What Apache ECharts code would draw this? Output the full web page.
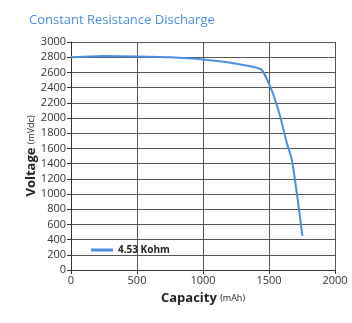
<!DOCTYPE html>
<html><head><meta charset="utf-8">
<script src="https://cdn.jsdelivr.net/npm/echarts@6/dist/echarts.min.js"></script>
<style>html,body{margin:0;padding:0;background:#fff}#c{width:352px;height:323px}</style>
</head><body><div id="c"></div>
<script>
const capacity = [0, 250, 500, 750, 1000, 1250, 1440, 1515, 1585, 1635, 1673, 1711, 1753];
const voltage = [2800, 2815, 2810, 2800, 2770, 2715, 2640, 2390, 2020, 1670, 1450, 1010, 450];
const seriesName = '4.53 Kohm';
const data = capacity.map((c, i) => [c, voltage[i]]);
const chart = echarts.init(document.getElementById('c'));
const fmt = v => String(v);
chart.setOption({
  animation: false,
  title: { text: 'Constant Resistance Discharge', left: 24, top: 9,
    textStyle: { color: '#4a8fdc', fontSize: 13, fontWeight: 'normal', fontFamily: 'Open Sans' } },
  grid: { left: 71, right: 17, top: 42, bottom: 53 },
  legend: { left: 86, top: 240, itemWidth: 22, itemHeight: 3, icon: 'rect',
    textStyle: { fontSize: 10, fontWeight: 'bold', color: '#222', fontFamily: 'Open Sans' },
    data: [seriesName] },
  xAxis: { type: 'value', min: 0, max: 2000, interval: 500,
    name: '{b|Capacity} {s|(mAh)}', nameLocation: 'middle', nameGap: 22, nameMoveOverlap: false,
    nameTextStyle: { rich: { b: { fontSize: 13, fontWeight: 'bold', color: '#222', fontFamily: 'Open Sans' },
      s: { fontSize: 9, color: '#222', fontFamily: 'Open Sans' } } },
    axisLine: { lineStyle: { color: '#333' } },
    axisTick: { show: true, length: 4, lineStyle: { color: '#333' } },
    axisLabel: { color: '#333', fontSize: 11, margin: 5, fontFamily: 'Open Sans', formatter: fmt },
    splitLine: { lineStyle: { color: '#555' } } },
  yAxis: { type: 'value', min: 0, max: 3000, interval: 200,
    name: '{b|Voltage} {s|(mVdc)}', nameLocation: 'middle', nameGap: 33, nameMoveOverlap: false,
    nameTextStyle: { rich: { b: { fontSize: 13, fontWeight: 'bold', color: '#222', fontFamily: 'Open Sans' },
      s: { fontSize: 9, color: '#222', fontFamily: 'Open Sans' } } },
    axisLine: { show: true, lineStyle: { color: '#333' } },
    axisTick: { show: true, length: 4, lineStyle: { color: '#333' } },
    axisLabel: { color: '#333', fontSize: 11, margin: 5, fontFamily: 'Open Sans', formatter: fmt },
    splitLine: { lineStyle: { color: '#555' } } },
  series: [{ name: seriesName, type: 'line', data: data, symbol: 'none', smooth: 0.15,
    lineStyle: { color: '#4a8fe6', width: 2 }, itemStyle: { color: '#4a8fe6' } }]
});
</script></body></html>
